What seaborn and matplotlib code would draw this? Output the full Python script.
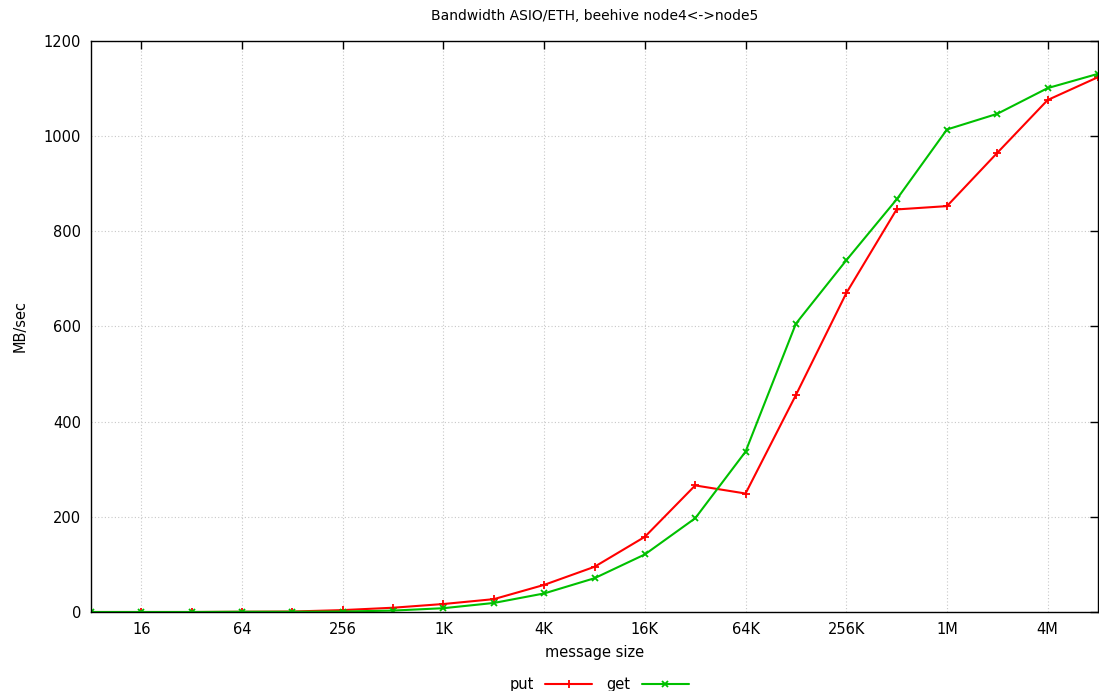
import matplotlib
matplotlib.use("Agg")
import matplotlib.pyplot as plt
import seaborn as sns
import pandas as pd

sizes = [8, 16, 32, 64, 128, 256, 512, 1024, 2048, 4096, 8192, 16384, 32768,
         65536, 131072, 262144, 524288, 1048576, 2097152, 4194304, 8388608]
put_bw = [0, 0, 0, 0.5, 1, 4, 9, 16.8, 27, 57, 95, 158, 266, 249, 456, 670,
          846, 853, 965, 1076, 1124]
get_bw = [0, 0, 0, 0.5, 0.5, 1, 3, 8, 19, 39, 71, 121, 197, 337, 606, 739,
          867, 1014, 1047, 1101, 1131]
tick_vals = [16, 64, 256, 1024, 4096, 16384, 65536, 262144, 1048576, 4194304]
tick_labels = ["16", "64", "256", "1K", "4K", "16K", "64K", "256K", "1M", "4M"]

sns.set_theme(style="white")
plt.rcParams["font.family"] = ["DejaVu Sans"]
plt.rcParams["text.color"] = "black"
plt.rcParams["axes.labelcolor"] = "black"

df = pd.DataFrame({"size": sizes, "put": put_bw, "get": get_bw})

fig = plt.figure(figsize=(10.99, 6.91), dpi=100)
ax = fig.add_axes([91 / 1099, 1 - 612 / 691, 1007 / 1099, 571 / 691])

sns.lineplot(data=df, x="size", y="put", ax=ax, color="#ff0000", marker="+",
             markersize=6, markeredgewidth=1.3, markeredgecolor="#ff0000",
             linewidth=1.5, label="put")
sns.lineplot(data=df, x="size", y="get", ax=ax, color="#00c000", marker="x",
             markersize=5, markeredgewidth=1.3, markeredgecolor="#00c000",
             linewidth=1.5, label="get")

ax.set_xscale("log", base=2)
ax.set_xlim(8, 8388608)
ax.set_ylim(0, 1200)
ax.set_xticks(tick_vals)
ax.set_xticklabels(tick_labels)
ax.xaxis.set_minor_locator(matplotlib.ticker.NullLocator())
ax.set_yticks(range(0, 1201, 200))
ax.tick_params(direction="in", length=6, width=1, top=True, right=True,
               labelsize=10.5, colors="black", pad=7)
ax.grid(True, color="#c8c8c8", linestyle=(0, (1, 2)), linewidth=0.8)
for s in ax.spines.values():
    s.set_color("black")
    s.set_linewidth(1)

ax.set_xlabel("message size", fontsize=10.5, labelpad=6, color="black")
ax.set_ylabel("MB/sec", fontsize=10.5, labelpad=12, color="black")
ax.set_title("Bandwidth ASIO/ETH, beehive node4<->node5", fontsize=10, pad=15,
             color="black")

ax.get_legend().remove()
h, l = ax.get_legend_handles_labels()
fig.legend(h, l, loc="lower center", bbox_to_anchor=(0.545, -0.02), ncol=2,
           frameon=False, markerfirst=False, fontsize=10.5, handlelength=3.2,
           columnspacing=1.0, handletextpad=0.8, labelcolor="black")

fig.savefig("out.png", dpi=100)
